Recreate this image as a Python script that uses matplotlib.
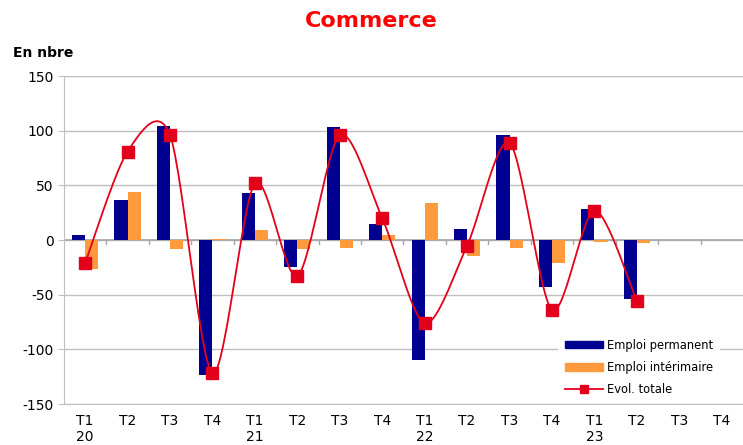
import numpy as np
import matplotlib.pyplot as plt
from matplotlib.patches import Patch
from matplotlib.lines import Line2D

plt.rcParams['axes.unicode_minus'] = False

# Trimestres (T1 2020 -> T4 2023)
quarters = ['T1\n20', 'T2', 'T3', 'T4', 'T1\n21', 'T2', 'T3', 'T4',
            'T1\n22', 'T2', 'T3', 'T4', 'T1\n23', 'T2', 'T3', 'T4']

# Valeurs connues (14 trimestres)
emploi_permanent = [5, 37, 104, -123, 43, -25, 103, 15, -110, 10, 96, -43, 28, -54]
emploi_interim = [-26, 44, -8, 1, 9, -8, -7, 5, 34, -15, -7, -21, -2, -3]
evol_totale = [-21, 81, 96, -122, 52, -33, 96, 20, -76, -5, 89, -64, 27, -56]

BLUE = '#000090'
ORANGE = '#FF9B3D'
RED = '#E2001A'
GREY = '#BFBFBF'


def smooth_curve(x, y, n=30, k=7.0):
    # lissage facon Excel : bezier cubique
    x = np.asarray(x, float)
    y = np.asarray(y, float)
    px, py = [], []
    for i in range(len(x) - 1):
        x0, y0 = (x[i - 1], y[i - 1]) if i > 0 else (x[i], y[i])
        x3, y3 = (x[i + 2], y[i + 2]) if i + 2 < len(x) else (x[i + 1], y[i + 1])
        c1 = (x[i] + (x[i + 1] - x0) / k, y[i] + (y[i + 1] - y0) / k)
        c2 = (x[i + 1] - (x3 - x[i]) / k, y[i + 1] - (y3 - y[i]) / k)
        t = np.linspace(0, 1, n)
        bx = ((1 - t) ** 3 * x[i] + 3 * (1 - t) ** 2 * t * c1[0]
              + 3 * (1 - t) * t ** 2 * c2[0] + t ** 3 * x[i + 1])
        by = ((1 - t) ** 3 * y[i] + 3 * (1 - t) ** 2 * t * c1[1]
              + 3 * (1 - t) * t ** 2 * c2[1] + t ** 3 * y[i + 1])
        px.extend(bx)
        py.extend(by)
    return np.array(px), np.array(py)


fig = plt.figure(figsize=(7.43, 4.45), dpi=100)
ax = fig.add_axes([0.086, 0.092, 0.914, 0.737])

x = np.arange(len(emploi_permanent))
w = 0.31
ax.bar(x - w / 2, emploi_permanent, width=w, color=BLUE, zorder=2)
ax.bar(x + w / 2, emploi_interim, width=w, color=ORANGE, zorder=2)

sx, sy = smooth_curve(x, evol_totale)
ax.plot(sx, sy, color=RED, lw=1.3, zorder=3)
ax.plot(x, evol_totale, ls='none', marker='s', ms=8.5, color=RED, zorder=4)

ax.set_xlim(-0.5, len(quarters) - 0.5)
ax.set_ylim(-150, 150)
ax.set_yticks(range(-150, 151, 50))
ax.set_xticks(range(len(quarters)))
ax.set_xticklabels(quarters, fontsize=10)
ax.tick_params(axis='x', length=0, pad=7)
ax.tick_params(axis='y', length=4, color=GREY, labelsize=10)

ax.grid(axis='y', color=GREY, lw=1, zorder=0)
ax.set_axisbelow(True)
for s in ['top', 'right']:
    ax.spines[s].set_visible(False)
ax.spines['left'].set_color(GREY)
ax.spines['bottom'].set_color(GREY)

# ligne du zero avec petites graduations
ax.axhline(0, color='#A6A6A6', lw=1.2, zorder=1)
for b in np.arange(0.5, len(quarters) - 0.5, 1):
    ax.plot([b, b], [0, -4], color='#A6A6A6', lw=1, zorder=1)

fig.text(0.5, 0.952, 'Commerce', color='#FF0000', fontsize=16, fontweight='bold',
         ha='center', va='center')
fig.text(0.018, 0.88, 'En nbre', fontsize=10, fontweight='bold', ha='left', va='center')

handles = [Patch(color=BLUE), Patch(color=ORANGE),
           Line2D([], [], color=RED, lw=1.3, marker='s', ms=6)]
labels = ['Emploi permanent', 'Emploi intérimaire', 'Evol. totale']
leg = ax.legend(handles, labels, loc='lower right', bbox_to_anchor=(0.975, -0.015),
                fontsize=8.3, frameon=True, facecolor='white', edgecolor='none',
                framealpha=1, handlelength=3.3, handleheight=0.6,
                handletextpad=0.4, labelspacing=0.8, borderpad=0.6)
leg.set_zorder(5)

fig.savefig('out.png', dpi=100)
